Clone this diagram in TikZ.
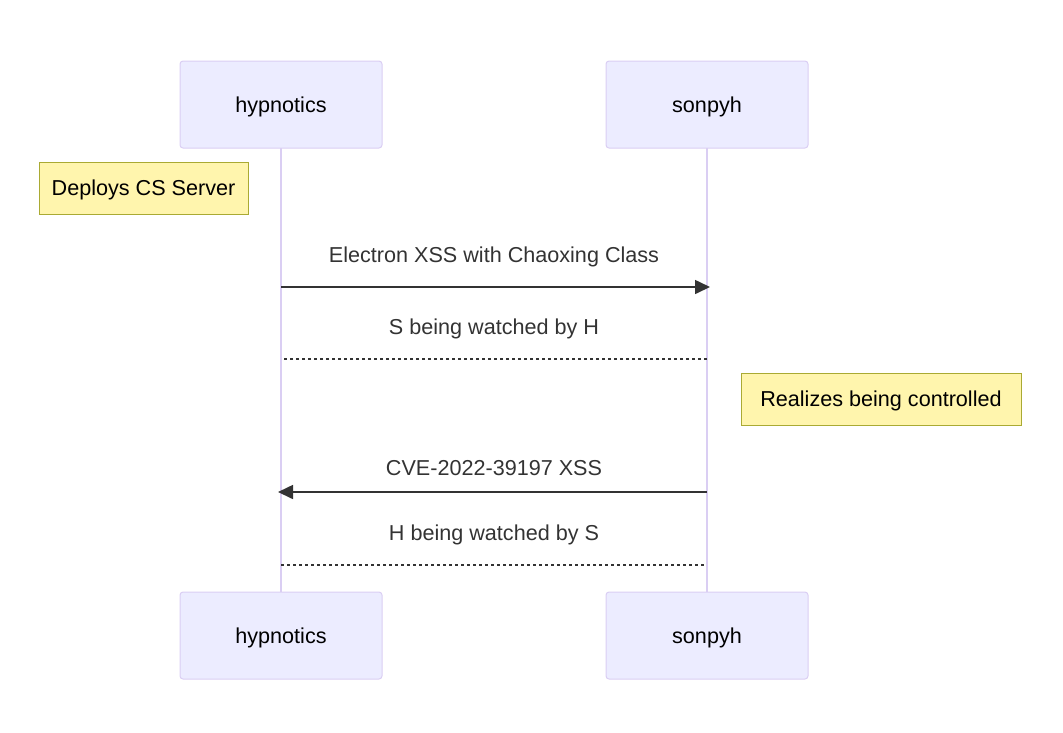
\documentclass[tikz,border=0pt]{standalone}
\usepackage{fontspec}
\setmainfont{Liberation Sans}
\usetikzlibrary{positioning,arrows.meta}
\definecolor{actorfill}{HTML}{ECECFF}
\definecolor{actorline}{HTML}{DACEF3}
\definecolor{notefill}{HTML}{FFF5AD}
\definecolor{noteline}{HTML}{AAAA33}
\definecolor{msgtext}{HTML}{333333}
\begin{document}
\begin{tikzpicture}[x=1pt,y=-1pt,
    actor/.style={draw=actorline,fill=actorfill,line width=1pt,rounded corners=3pt,
        minimum width=202pt,minimum height=87pt,text height=19.7pt,text depth=4.5pt,
        font=\fontsize{21.6}{26}\selectfont},
    note/.style={draw=noteline,fill=notefill,line width=1pt,minimum height=52pt,
        text height=19.7pt,text depth=4.5pt,font=\fontsize{21.6}{26}\selectfont},
    msg/.style={text=msgtext,font=\fontsize{21.6}{26}\selectfont},
    lifeline/.style={draw=actorline,line width=2.2pt},
    call/.style={draw=msgtext,line width=1.6pt,-{Triangle[length=15pt,width=14pt]}},
    reply/.style={draw=msgtext,line width=1.8pt,dash pattern=on 3.3pt off 2.7pt}]
    \useasboundingbox (0,0) rectangle (1063,732);

    % Lifelines
    \draw[lifeline] (281,148) -- (281,592);
    \draw[lifeline] (707,148) -- (707,592);

    % Actors
    \node[actor] (htop) at (281,104.5) {hypnotics};
    \node[actor] (stop) at (707,104.5) {sonpyh};
    \node[actor] (hbot) at (281,635.5) {hypnotics};
    \node[actor] (sbot) at (707,635.5) {sonpyh};

    % Notes
    \node[note,minimum width=209pt] (deploy) at (143.5,188) {Deploys CS Server};
    \node[note,minimum width=280pt] (realize) at (881,399) {Realizes being controlled};

    % Messages
    \coordinate (m1a) at (281,287); \coordinate (m1b) at (710,287);
    \node[msg] (t1) at (494,257) {Electron XSS with Chaoxing Class};
    \draw[call] (m1a) -- (m1b);

    \coordinate (m2a) at (707,359); \coordinate (m2b) at (284,359);
    \node[msg] (t2) at (494,329) {S being watched by H};
    \draw[reply] (m2a) -- (m2b);

    \coordinate (m3a) at (707,492); \coordinate (m3b) at (278,492);
    \node[msg] (t3) at (494,468) {CVE-2022-39197 XSS};
    \draw[call] (m3a) -- (m3b);

    \coordinate (m4a) at (281,565); \coordinate (m4b) at (705,565);
    \node[msg] (t4) at (494,535) {H being watched by S};
    \draw[reply] (m4a) -- (m4b);
\end{tikzpicture}
\end{document}
